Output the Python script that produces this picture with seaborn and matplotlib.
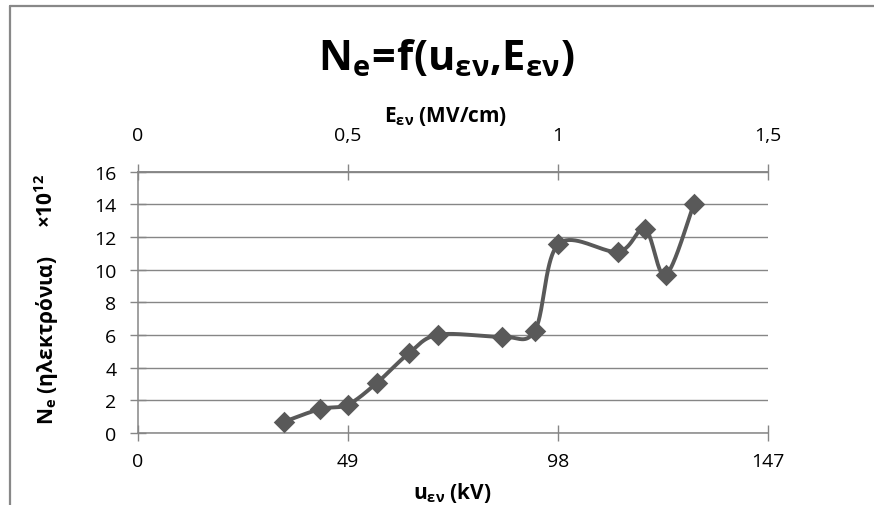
import numpy as np
import pandas as pd
import matplotlib
matplotlib.use("Agg")
import matplotlib.pyplot as plt
import seaborn as sns
from matplotlib.lines import Line2D

# Measured points: applied voltage (kV) and electron count (x10^12)
u_kv = [34.1, 42.5, 48.9, 55.7, 63.2, 70.1, 84.9, 92.6, 98.1, 112.1, 118.3, 123.1, 129.7]
n_e = [0.69, 1.47, 1.73, 3.06, 4.88, 6.02, 5.90, 6.27, 11.57, 11.10, 12.49, 9.67, 14.02]

x_ticks = [0, 49, 98, 147]
x_tick_labels = ["0", "49", "98", "147"]
e_ticks = [0, 0.5, 1.0, 1.5]
e_tick_labels = ["0", "0,5", "1", "1,5"]
y_ticks = [0, 2, 4, 6, 8, 10, 12, 14, 16]
kv_per_mvcm = 98.0

GRAY = "#868686"
LINE = "#595959"
FONT = "Open Sans"

sns.set_theme(style="white")
plt.rcParams["font.family"] = [FONT, "DejaVu Sans"]
plt.rcParams["mathtext.fontset"] = "custom"
plt.rcParams["mathtext.rm"] = FONT
plt.rcParams["mathtext.it"] = FONT
plt.rcParams["mathtext.bf"] = FONT + ":bold"


def smooth_curve(xs, ys, n=40):
    """Catmull-Rom style Bezier smoothing through every point."""
    p = np.column_stack([xs, ys]).astype(float)
    ext = np.vstack([p[0], p, p[-1]])
    out = []
    t = np.linspace(0, 1, n)[:, None]
    for i in range(len(p) - 1):
        p0, p1, p2, p3 = ext[i], ext[i + 1], ext[i + 2], ext[i + 3]
        c1 = p1 + (p2 - p0) / 6.0
        c2 = p2 - (p3 - p1) / 6.0
        seg = ((1 - t) ** 3) * p1 + 3 * ((1 - t) ** 2) * t * c1 + 3 * (1 - t) * t ** 2 * c2 + t ** 3 * p2
        out.append(seg if i == 0 else seg[1:])
    s = np.vstack(out)
    return s[:, 0], s[:, 1]


W, H = 874, 506
fig = plt.figure(figsize=(W / 100, H / 100), dpi=100)
ax = fig.add_axes([138 / W, 1 - 434 / H, (768 - 138) / W, (434 - 172.7) / H])

df = pd.DataFrame({"u": u_kv, "n": n_e})
sx, sy = smooth_curve(df["u"], df["n"])
curve = pd.DataFrame({"u": sx, "n": sy})

sns.lineplot(data=curve, x="u", y="n", sort=False, estimator=None,
             color=LINE, linewidth=2.8, ax=ax, zorder=3)
sns.scatterplot(data=df, x="u", y="n", marker="D", s=120, color=LINE,
                edgecolor=LINE, linewidth=0, ax=ax, zorder=4)

ax.set_xlim(0, 147)
ax.set_ylim(0, 16)
ax.set_xticks(x_ticks)
ax.set_xticklabels(x_tick_labels)
ax.set_yticks(y_ticks)
ax.set_yticklabels([str(v) for v in y_ticks])
ax.set_xlabel("")
ax.set_ylabel("")

ax.grid(axis="y", color=GRAY, linewidth=1.0)
ax.grid(axis="x", visible=False)
for side in ["left", "bottom", "top"]:
    ax.spines[side].set_visible(True)
    ax.spines[side].set_color(GRAY)
    ax.spines[side].set_linewidth(1.1)
ax.spines["right"].set_visible(False)

ax.tick_params(axis="y", direction="inout", length=11, width=1, color=GRAY,
               labelsize=14, pad=10, labelcolor="black", left=True)
ax.tick_params(axis="x", direction="inout", length=12, width=1, color=GRAY,
               labelsize=14, pad=8, labelcolor="black", bottom=True)

top = ax.secondary_xaxis("top", functions=(lambda u: u / kv_per_mvcm,
                                           lambda e: e * kv_per_mvcm))
top.set_xticks(e_ticks)
top.set_xticklabels(e_tick_labels)
top.tick_params(axis="x", direction="inout", length=12, width=1, color=GRAY,
                labelsize=14, pad=14, labelcolor="black")
top.spines["top"].set_color(GRAY)
top.spines["top"].set_linewidth(1.1)

# Titles
fig.text(446 / W, 1 - 70 / H, r"$\mathbf{N_e\!=\!f(u_{εν}{,}E_{εν})}$",
         ha="center", va="baseline", fontsize=30, fontweight="bold", color="black")
fig.text(446 / W, 1 - 117 / H, r"$\mathbf{E_{εν}}$ (MV/cm)", ha="center", va="center",
         fontsize=15, fontweight="bold", color="black")
fig.text(452 / W, 1 - 493 / H, r"$\mathbf{u_{εν}}$ (kV)", ha="center", va="center",
         fontsize=15, fontweight="bold", color="black")
fig.text(47 / W, 1 - 340 / H, r"$\mathbf{N_e}$ (ηλεκτρόνια)", ha="center", va="center",
         rotation=90, fontsize=15, fontweight="bold", color="black")
fig.text(47 / W, 1 - 201 / H, r"$\mathbf{×10^{12}}$", ha="center", va="center",
         rotation=90, fontsize=15, fontweight="bold", color="black")

# Chart frame (left and top edges)
fig.add_artist(Line2D([9.5 / W, 9.5 / W], [0, 1 - 6.5 / H], transform=fig.transFigure,
                      color="#888888", linewidth=1.6))
fig.add_artist(Line2D([9.5 / W, 1], [1 - 6.5 / H, 1 - 6.5 / H], transform=fig.transFigure,
                      color="#888888", linewidth=1.6))

fig.savefig("out.png", dpi=100, facecolor="white")
